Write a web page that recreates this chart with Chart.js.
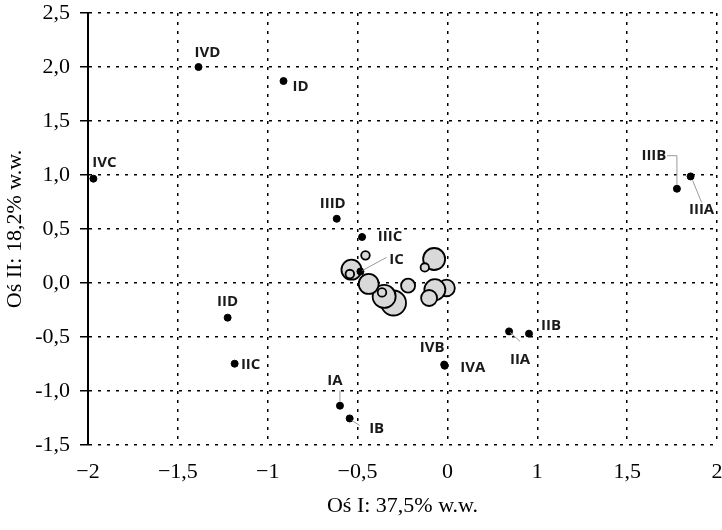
<!DOCTYPE html>
<html>
<head>
<meta charset="utf-8">
<script src="https://cdn.jsdelivr.net/npm/chart.js@4"></script>
<style>
    body { margin: 0; background: #fff; }
    #wrap { width: 722px; height: 530px; }
</style>
</head>
<body>
<div id="wrap"><canvas id="pcaChart" width="722" height="530"></canvas></div>
<script>
// x values are in plotted axis units (evenly spaced gridlines), tick text comes from xTickLabels
const xTickLabels = ['\u22122', '\u22121,5', '\u22121', '\u22120,5', '0', '1', '1,5', '2'];
const yTickLabels = ['-1,5', '-1,0', '-0,5', '0,0', '0,5', '1,0', '1,5', '2,0', '2,5'];

const pointNames = ['IVD', 'ID', 'IVC', 'IIIB', 'IIIA', 'IIID', 'IIIC', 'IC', 'IID', 'IIC', 'IA', 'IB', 'IVB', 'IVA', 'IIA', 'IIB'];
const pointX = [-1.385, -0.912, -1.97, 1.277, 1.353, -0.616, -0.475, -0.484, -1.223, -1.184, -0.598, -0.544, -0.018, -0.015, 0.343, 0.454];
const pointY = [2.0, 1.87, 0.966, 0.873, 0.987, 0.595, 0.426, 0.107, -0.321, -0.747, -1.136, -1.254, -0.755, -0.766, -0.448, -0.469];

const bubbleX = [-0.456, -0.534, -0.543, -0.300, -0.352, -0.364, -0.438, -0.219, -0.074, -0.126, -0.005, -0.070, -0.102];
const bubbleY = [0.256, 0.123, 0.083, -0.185, -0.124, -0.087, -0.009, -0.025, 0.222, 0.144, -0.046, -0.062, -0.139];
const bubbleSize = [4.3, 10, 4.3, 12.5, 11.5, 4.3, 10, 7, 11, 4.2, 8.3, 10.5, 8];

// label placement relative to each dot, in pixels
const labelOffsets = {
    IVD: [9, -14], ID: [17, 6], IVC: [11, -16], IIIB: [-23, -33], IIIA: [11, 33],
    IIID: [-4, -15], IIIC: [28, 0], IC: [36, -12], IID: [0, -16], IIC: [16, 1],
    IA: [-5, -25], IB: [27, 10], IVB: [-12, -17], IVA: [28, 2], IIA: [11, 28], IIB: [22, -8]
};
const leaderLines = {
    IIIB: [[0, -4], [0, -33], [-10, -33]],
    IIIA: [[2, 4], [11, 26]],
    IC: [[2, -1], [26, -14]],
    IA: [[0, -4], [0, -15]],
    IB: [[2, 2], [10, 7]],
    IIA: [[1, 1], [11, 10]]
};

const pointLabels = {
    id: 'pointLabels',
    afterDatasetsDraw(chart) {
        const ctx = chart.ctx;
        const meta = chart.getDatasetMeta(0);
        ctx.save();
        ctx.strokeStyle = '#9a9a9a';
        ctx.lineWidth = 1;
        meta.data.forEach((el, i) => {
            const line = leaderLines[pointNames[i]];
            if (line) {
                ctx.beginPath();
                line.forEach((p, k) => {
                    if (k === 0) ctx.moveTo(el.x + p[0], el.y + p[1]);
                    else ctx.lineTo(el.x + p[0], el.y + p[1]);
                });
                ctx.stroke();
            }
        });
        ctx.fillStyle = '#1a1a1a';
        ctx.font = '700 15px "Open Sans"';
        ctx.textAlign = 'center';
        ctx.textBaseline = 'middle';
        meta.data.forEach((el, i) => {
            const name = pointNames[i];
            const off = labelOffsets[name] || [0, -12];
            ctx.fillText(name, el.x + off[0], el.y + off[1]);
        });
        ctx.restore();
    }
};

const ctx = document.getElementById('pcaChart').getContext('2d');
new Chart(ctx, {
    type: 'scatter',
    data: {
        datasets: [{
            label: 'Próby',
            data: pointX.map((x, i) => ({ x: x, y: pointY[i] })),
            backgroundColor: '#000',
            borderColor: '#000',
            pointRadius: 3.5,
            pointHoverRadius: 3.5
        }, {
            type: 'bubble',
            label: 'Zmienne',
            data: bubbleX.map((x, i) => ({ x: x, y: bubbleY[i], r: bubbleSize[i] })),
            backgroundColor: '#d9d9d9',
            borderColor: '#000',
            borderWidth: 1.8,
            hoverRadius: 0
        }]
    },
    options: {
        responsive: false,
        animation: false,
        events: [],
        layout: { autoPadding: false, padding: { top: 13, right: 5, left: 0, bottom: 7 } },
        plugins: { legend: { display: false }, tooltip: { enabled: false } },
        scales: {
            x: {
                type: 'linear',
                min: -2,
                max: 1.5,
                afterFit: scale => {
                    scale.height = 78;
                    scale.paddingLeft = 0;
                    scale.paddingRight = 0;
                },
                border: { display: false, dash: [3, 6] },
                grid: { color: '#000', lineWidth: 1.5, drawTicks: false },
                ticks: {
                    stepSize: 0.5,
                    padding: 14,
                    color: '#000',
                    font: { family: '"Liberation Serif"', size: 22 },
                    maxRotation: 0,
                    autoSkip: false,
                    callback: (v, i) => xTickLabels[i]
                },
                title: {
                    display: true,
                    text: 'Oś I: 37,5% w.w.',
                    color: '#000',
                    font: { family: '"Liberation Serif"', size: 22 },
                    padding: { top: 0, bottom: 4 }
                }
            },
            y: {
                type: 'linear',
                min: -1.5,
                max: 2.5,
                afterFit: scale => {
                    scale.width = 88;
                    scale.paddingTop = 0;
                    scale.paddingBottom = 0;
                },
                border: { display: true, color: '#000', width: 2, dash: [3, 6] },
                grid: { color: '#000', lineWidth: 1.5, tickLength: 8, tickColor: '#000', tickWidth: 1.5, tickBorderDash: [] },
                ticks: {
                    stepSize: 0.5,
                    padding: 10,
                    color: '#000',
                    font: { family: '"Liberation Serif"', size: 22 },
                    autoSkip: false,
                    callback: (v, i) => yTickLabels[i]
                },
                title: {
                    display: true,
                    text: 'Oś II: 18,2% w.w.',
                    color: '#000',
                    font: { family: '"Liberation Serif"', size: 22 },
                    padding: { top: 2, bottom: 0 }
                }
            }
        }
    },
    plugins: [pointLabels]
});
</script>
</body>
</html>
